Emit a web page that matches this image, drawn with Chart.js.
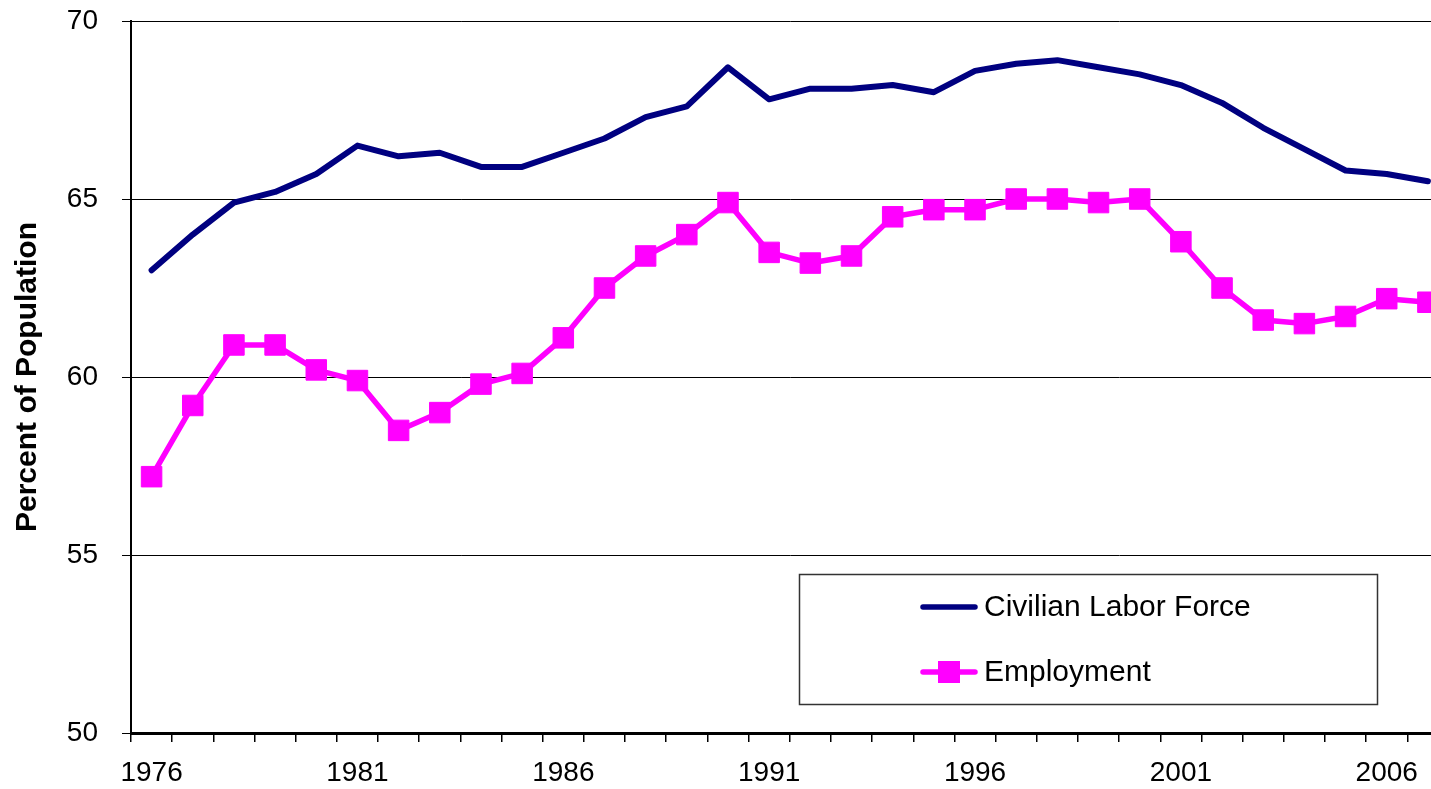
<!DOCTYPE html>
<html>
<head>
<meta charset="utf-8">
<script src="https://cdn.jsdelivr.net/npm/chart.js@4.4.0/dist/chart.umd.min.js"></script>
<style>
  html, body { margin: 0; padding: 0; background: #fff; overflow: hidden; }
  #wrap { width: 1464px; height: 789px; position: relative; }
</style>
</head>
<body>
<div id="wrap"><canvas id="chart" width="1464" height="789"></canvas></div>
<script>
// --- data ---
const years = ['1976', '1977', '1978', '1979', '1980', '1981', '1982', '1983', '1984', '1985',
               '1986', '1987', '1988', '1989', '1990', '1991', '1992', '1993', '1994', '1995',
               '1996', '1997', '1998', '1999', '2000', '2001', '2002', '2003', '2004', '2005',
               '2006', '2007'];

const laborForce = [63.0, 64.0, 64.9, 65.2, 65.7, 66.5, 66.2, 66.3, 65.9, 65.9,
                    66.3, 66.7, 67.3, 67.6, 68.7, 67.8, 68.1, 68.1, 68.2, 68.0,
                    68.6, 68.8, 68.9, 68.7, 68.5, 68.2, 67.7, 67.0, 66.4, 65.8,
                    65.7, 65.5];

const employment = [57.2, 59.2, 60.9, 60.9, 60.2, 59.9, 58.5, 59.0, 59.8, 60.1,
                    61.1, 62.5, 63.4, 64.0, 64.9, 63.5, 63.2, 63.4, 64.5, 64.7,
                    64.7, 65.0, 65.0, 64.9, 65.0, 63.8, 62.5, 61.6, 61.5, 61.7,
                    62.2, 62.1];

const seriesNames = ['Civilian Labor Force', 'Employment'];
const yTicks = [50, 55, 60, 65, 70];

const NAVY = '#000080';
const MAGENTA = '#ff00ff';
const FONT = "'Liberation Sans', Arial, Helvetica, sans-serif";

// legend box drawn inside the plot, like the original
const boxLegend = {
    id: 'boxLegend',
    afterDraw(chart) {
        const ctx = chart.ctx;
        ctx.save();
        ctx.strokeStyle = '#333';
        ctx.lineWidth = 1.5;
        ctx.strokeRect(799.5, 574.5, 578, 130);

        const rows = [
            { y: 607, color: NAVY, marker: false },
            { y: 672, color: MAGENTA, marker: true }
        ];
        rows.forEach((row, i) => {
            ctx.strokeStyle = row.color;
            ctx.lineWidth = 5.5;
            ctx.lineCap = 'round';
            ctx.beginPath();
            ctx.moveTo(923, row.y);
            ctx.lineTo(975, row.y);
            ctx.stroke();
            if (row.marker) {
                ctx.fillStyle = row.color;
                ctx.fillRect(938, row.y - 11, 22, 22);
            }
            ctx.fillStyle = '#000';
            ctx.font = '30px ' + FONT;
            ctx.textBaseline = 'middle';
            ctx.textAlign = 'left';
            ctx.fillText(seriesNames[i], 984, row.y + 1);
        });
        ctx.restore();
    }
};

const chart = new Chart(document.getElementById('chart').getContext('2d'), {
    type: 'line',
    data: {
        labels: years,
        datasets: [
            {
                label: seriesNames[0],
                data: laborForce,
                borderColor: NAVY,
                backgroundColor: NAVY,
                borderWidth: 6,
                pointRadius: 0,
                tension: 0,
                borderCapStyle: 'round',
                borderJoinStyle: 'round'
            },
            {
                label: seriesNames[1],
                data: employment,
                borderColor: MAGENTA,
                backgroundColor: MAGENTA,
                borderWidth: 5.5,
                pointStyle: 'rect',
                pointRadius: 14.5,
                pointBorderWidth: 1,
                pointBorderColor: MAGENTA,
                pointBackgroundColor: MAGENTA,
                tension: 0,
                borderCapStyle: 'round',
                borderJoinStyle: 'round'
            }
        ]
    },
    options: {
        responsive: false,
        animation: false,
        devicePixelRatio: 1,
        layout: { padding: { top: 0, right: 3, left: 0, bottom: 0 } },
        plugins: {
            legend: { display: false },
            tooltip: { enabled: false }
        },
        scales: {
            x: {
                type: 'category',
                offset: true,
                grid: {
                    offset: true,
                    drawOnChartArea: false,
                    drawTicks: true,
                    tickLength: 9,
                    color: '#000',
                    lineWidth: 1.5
                },
                border: { display: true, color: '#000', width: 3 },
                ticks: {
                    autoSkip: false,
                    maxRotation: 0,
                    color: '#000',
                    padding: 14,
                    font: { family: FONT, size: 28 },
                    callback: (v, i) => (i % 5 === 0 ? years[i] : '')
                },
                afterFit: (s) => { s.height = 56; }
            },
            y: {
                min: yTicks[0],
                max: yTicks[yTicks.length - 1],
                afterBuildTicks: (s) => { s.ticks = yTicks.map(v => ({ value: v })); },
                grid: {
                    color: '#000',
                    lineWidth: 1,
                    tickLength: 9
                },
                border: { display: true, color: '#000', width: 2 },
                ticks: {
                    color: '#000',
                    padding: 24,
                    font: { family: FONT, size: 28 }
                },
                title: {
                    display: true,
                    text: 'Percent of Population',
                    color: '#000',
                    padding: { top: 10, bottom: 0 },
                    font: { family: FONT, size: 30, weight: 'bold' }
                },
                afterFit: (s) => {
                    s.width = 131;
                    s.paddingTop = 21;
                    s.paddingBottom = 0;
                }
            }
        }
    },
    plugins: [boxLegend]
});
</script>
</body>
</html>
